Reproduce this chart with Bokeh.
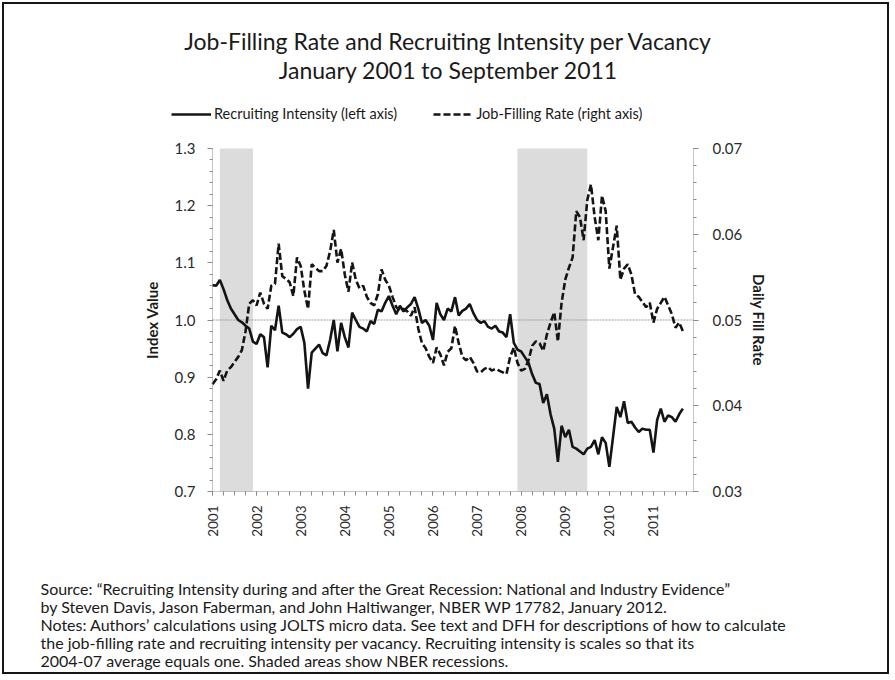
import math
from bokeh.plotting import figure
from bokeh.models import (Range1d, LinearAxis, SingleIntervalTicker, FixedTicker,
                          PrintfTickFormatter, Label, Legend, LegendItem)
from bokeh.embed import file_html
from bokeh.resources import INLINE

# ---------------- data ----------------
start_year = 2001
recruiting_intensity = [
    1.061, 1.060, 1.070, 1.054, 1.035, 1.020, 1.010, 1.000, 0.996, 0.990,
    0.985, 0.962, 0.958, 0.975, 0.970, 0.917, 0.990, 0.982, 1.025, 0.978,
    0.975, 0.970, 0.976, 0.984, 0.988, 0.960, 0.880, 0.943, 0.950, 0.957,
    0.942, 0.938, 0.965, 1.000, 0.945, 0.995, 0.970, 0.952, 1.013, 1.000,
    0.988, 0.985, 0.980, 0.998, 0.993, 1.018, 1.015, 1.030, 1.042, 1.025,
    1.010, 1.025, 1.015, 1.022, 1.028, 1.040, 1.020, 0.995, 1.000, 0.990,
    0.965, 1.030, 1.010, 1.000, 1.020, 1.015, 1.040, 1.008, 1.016, 1.020,
    1.028, 1.012, 1.000, 0.995, 0.998, 0.988, 0.985, 0.990, 0.980, 0.978,
    0.970, 1.010, 0.960, 0.948, 0.945, 0.935, 0.925, 0.905, 0.890, 0.888,
    0.855, 0.870, 0.835, 0.810, 0.752, 0.815, 0.795, 0.808, 0.778, 0.775,
    0.770, 0.765, 0.775, 0.778, 0.790, 0.765, 0.795, 0.785, 0.743, 0.795,
    0.848, 0.830, 0.858, 0.820, 0.822, 0.812, 0.804, 0.810, 0.808, 0.808,
    0.768, 0.825, 0.845, 0.822, 0.833, 0.830, 0.822, 0.835, 0.845,
]
job_filling_rate = [
    0.0425, 0.0431, 0.0441, 0.0429, 0.0441, 0.0445, 0.0451, 0.0457, 0.0465, 0.0487,
    0.0519, 0.0523, 0.0517, 0.0532, 0.0519, 0.0513, 0.0540, 0.0542, 0.0589, 0.0551,
    0.0548, 0.0544, 0.0528, 0.0573, 0.0563, 0.0534, 0.0513, 0.0565, 0.0561, 0.0557,
    0.0557, 0.0563, 0.0580, 0.0605, 0.0567, 0.0583, 0.0553, 0.0533, 0.0567, 0.0547,
    0.0537, 0.0540, 0.0527, 0.0520, 0.0517, 0.0530, 0.0559, 0.0547, 0.0540, 0.0527,
    0.0515, 0.0511, 0.0513, 0.0510, 0.0505, 0.0515, 0.0490, 0.0473, 0.0467, 0.0457,
    0.0450, 0.0468, 0.0460, 0.0447, 0.0463, 0.0467, 0.0493, 0.0473, 0.0457, 0.0453,
    0.0457, 0.0450, 0.0440, 0.0439, 0.0443, 0.0445, 0.0441, 0.0443, 0.0441, 0.0439,
    0.0437, 0.0457, 0.0468, 0.0450, 0.0441, 0.0443, 0.0453, 0.0470, 0.0475, 0.0473,
    0.0464, 0.0483, 0.0497, 0.0509, 0.0475, 0.0520, 0.0547, 0.0561, 0.0573, 0.0627,
    0.0620, 0.0593, 0.0640, 0.0658, 0.0620, 0.0593, 0.0645, 0.0627, 0.0560, 0.0585,
    0.0610, 0.0547, 0.0560, 0.0565, 0.0553, 0.0530, 0.0527, 0.0521, 0.0515, 0.0520,
    0.0497, 0.0513, 0.0520, 0.0527, 0.0517, 0.0507, 0.0491, 0.0497, 0.0487,
]
year_labels = ["2001", "2002", "2003", "2004", "2005", "2006",
               "2007", "2008", "2009", "2010", "2011"]
# NBER recessions: (start year, start month, end year, end month)
recessions = [(2001, 3, 2001, 11), (2007, 12, 2009, 6)]
index_base = 1.0   # recruiting intensity normalised to 1 (2004-07 average)

title_lines = ["Job-Filling Rate and Recruiting Intensity per Vacancy",
               "January 2001 to September 2011"]
legend_labels = ["Recruiting Intensity (left axis)", "Job-Filling Rate (right axis)"]
note_lines = [
    "Source: \u201cRecruiting Intensity during and after the Great Recession: National and Industry Evidence\u201d",
    "by Steven Davis, Jason Faberman, and John Haltiwanger, NBER WP 17782, January 2012.",
    "Notes: Authors\u2019 calculations using JOLTS micro data.  See text and DFH for descriptions of how to calculate",
    "the job-filling rate and recruiting intensity per vacancy.  Recruiting intensity is scales so that its",
    "2004-07 average equals one.  Shaded areas show NBER recessions.",
]

assert len(recruiting_intensity) == len(job_filling_rate) == 129

# ---------------- layout constants (pixels inside the figure) ----------------
FONT = "Lato"
TXT = "#1a1a1a"
AX = "#8a8a8a"
LINE = "#141414"
W, H = 887, 672
AXIS_L, AXIS_R = 208, 689           # where the two y axes sit
AXIS_TOP, AXIS_BOT = 144, 487       # top/bottom of the y axes

months = list(range(len(recruiting_intensity)))
left_lo, left_hi = 0.7, 1.3
right_lo, right_hi = 0.03, 0.07
x_end = 130.9

# the frame covers the whole canvas; axes are pinned at their data locations
ppx = (AXIS_R - AXIS_L) / x_end
ppy_l = (AXIS_BOT - AXIS_TOP) / (left_hi - left_lo)
ppy_r = (AXIS_BOT - AXIS_TOP) / (right_hi - right_lo)
x_range = Range1d(-AXIS_L / ppx, x_end + (W - AXIS_R) / ppx)
y_range = Range1d(left_lo - (H - AXIS_BOT) / ppy_l, left_hi + AXIS_TOP / ppy_l)
r_range = Range1d(right_lo - (H - AXIS_BOT) / ppy_r, right_hi + AXIS_TOP / ppy_r)

p = figure(width=W, height=H, output_backend="svg", toolbar_location=None,
           x_range=x_range, y_range=y_range,
           min_border_left=0, min_border_right=0,
           min_border_top=0, min_border_bottom=0)
p.styles = {"border": "2px solid #161616", "margin": "2px"}
p.extra_y_ranges = {"rate": r_range}
p.xgrid.visible = False
p.ygrid.visible = False
p.outline_line_color = None
p.background_fill_color = "white"
p.border_fill_color = "white"

def mi(y, m):
    return (y - start_year) * 12 + (m - 1)

rec_left = [mi(a, b) for a, b, c, d in recessions]
rec_right = [mi(c, d) + 1 for a, b, c, d in recessions]
p.quad(left=rec_left, right=rec_right, bottom=left_lo, top=left_hi,
       fill_color="#dcdcdc", line_color=None)

p.segment(x0=[0], y0=[index_base], x1=[x_end], y1=[index_base],
          line_color="#9a9a9a", line_width=1, line_dash="2 1")

r_ri = p.line(months, recruiting_intensity, line_color=LINE, line_width=2.6)
r_jf = p.line(months, job_filling_rate, y_range_name="rate", line_color=LINE,
              line_width=2.6, line_dash="7 3")

# ---------------- axes ----------------
def style_axis(ax):
    ax.axis_line_color = AX
    ax.axis_line_dash = "1 1"
    ax.major_tick_line_color = AX
    ax.minor_tick_line_color = AX
    ax.major_tick_in = 0
    ax.minor_tick_in = 0
    ax.major_tick_out = 5
    ax.minor_tick_out = 3
    ax.major_label_text_font = FONT
    ax.major_label_text_font_size = "15px"
    ax.major_label_text_color = "#2a2a2a"
    ax.axis_label_text_font = FONT
    ax.axis_label_text_font_size = "15px"
    ax.axis_label_text_font_style = "bold"
    ax.axis_label_text_color = TXT

ya = p.yaxis[0]
ya.ticker = SingleIntervalTicker(interval=0.1, num_minor_ticks=5)
ya.formatter = PrintfTickFormatter(format="%.1f")
ya.axis_label = "Index Value"
ya.bounds = (left_lo, left_hi)
ya.fixed_location = 0
style_axis(ya)
ya.major_label_standoff = 12
ya.axis_label_standoff = 11

ra = LinearAxis(y_range_name="rate", axis_label="Daily Fill Rate",
                ticker=SingleIntervalTicker(interval=0.01, num_minor_ticks=5),
                formatter=PrintfTickFormatter(format="%.2f"),
                bounds=(right_lo, right_hi), fixed_location=x_end)
style_axis(ra)
ra.major_label_standoff = 14
ra.axis_label_standoff = 5
p.add_layout(ra, "right")

xa = p.xaxis[0]
year_ticks = [12 * i for i in range(len(year_labels))]
xa.ticker = FixedTicker(ticks=year_ticks,
                        minor_ticks=list(range(0, len(months) + 1, 3)))
xa.major_label_overrides = {t: lab for t, lab in zip(year_ticks, year_labels)}
xa.major_label_orientation = math.pi / 2
xa.bounds = (0, x_end)
xa.fixed_location = left_lo
style_axis(xa)
xa.major_label_text_font_size = "13.5px"
xa.major_tick_out = 4
xa.minor_tick_out = 4
xa.major_label_standoff = 10

# ---------------- title, legend, notes (screen units from bottom-left) ----------------
for line, yy in zip(title_lines, [636, 607]):
    p.add_layout(Label(x=444, y=yy, x_units="screen", y_units="screen", text=line,
                       text_align="center", text_baseline="middle",
                       text_font=FONT, text_font_size="23px", text_color=TXT))

legend = Legend(items=[LegendItem(label=legend_labels[0], renderers=[r_ri]),
                       LegendItem(label=legend_labels[1], renderers=[r_jf])],
                location=(167, 554), orientation="horizontal",
                glyph_width=40, glyph_height=16, label_height=16,
                label_standoff=3, spacing=36, padding=0, margin=0,
                border_line_color=None, background_fill_alpha=0,
                label_text_font=FONT, label_text_font_size="14.5px",
                label_text_color=TXT)
p.add_layout(legend)

for line, yy in zip(note_lines, [88, 70, 52, 34, 16]):
    p.add_layout(Label(x=36, y=yy, x_units="screen", y_units="screen", text=line,
                       text_align="left", text_baseline="middle",
                       text_font=FONT, text_font_size="16px", text_color=TXT))

open("out.html", "w").write(file_html(p, INLINE))
